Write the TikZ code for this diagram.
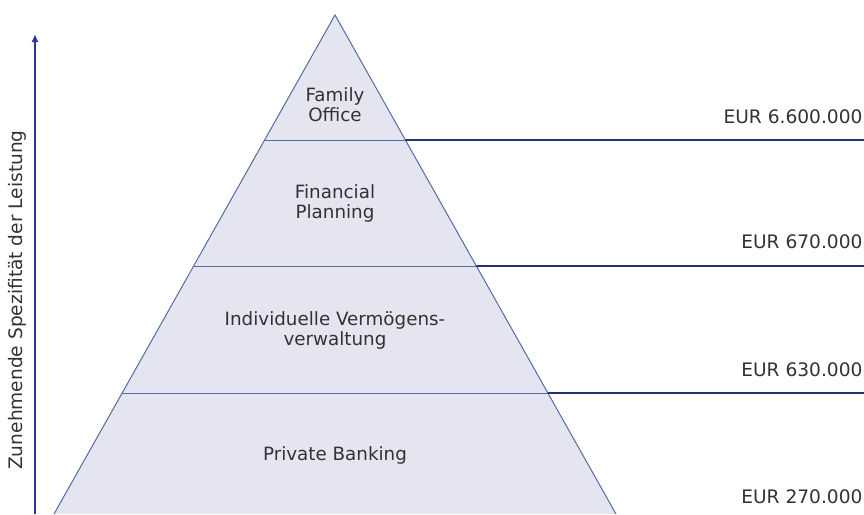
\documentclass[tikz,border=0pt]{standalone}
\usepackage{fontspec}
\setmainfont{DejaVu Sans}
\usetikzlibrary{calc, arrows.meta}

\definecolor{pyrfill}{RGB}{229,229,242}
\definecolor{pyrline}{RGB}{80,110,160}
\definecolor{levelline}{RGB}{35,50,110}
\definecolor{axisblue}{RGB}{50,50,160}
\definecolor{txtgrey}{RGB}{50,50,50}

\tikzset{
    pyrtext/.style={text=txtgrey, align=center, font=\fontsize{18.3}{20}\selectfont},
    eurtext/.style={text=txtgrey, anchor=base east, font=\fontsize{18.6}{20}\selectfont},
}

\begin{document}
\begin{tikzpicture}[x=1pt, y=-1pt]
        \useasboundingbox (0,0) rectangle (864,514);

        % define pyramid
        \coordinate (apex) at (335,15);
        \coordinate (base_left) at (54,514);
        \coordinate (base_right) at (616,514);

        % draw pyramid
        \fill[pyrfill] (apex) -- (base_left) -- (base_right) -- cycle;
        \draw[pyrline, line width=1pt] (base_left) -- (apex) -- (base_right);

        % level borders
        \coordinate (L1_left) at ($(apex)!0.2505!(base_left)$);
        \coordinate (L1_right) at ($(apex)!0.2505!(base_right)$);
        \coordinate (L2_left) at ($(apex)!0.503!(base_left)$);
        \coordinate (L2_right) at ($(apex)!0.503!(base_right)$);
        \coordinate (L3_left) at ($(apex)!0.7575!(base_left)$);
        \coordinate (L3_right) at ($(apex)!0.7575!(base_right)$);

        \draw[pyrline, line width=1pt] (L1_left) -- (L1_right);
        \draw[pyrline, line width=1pt] (L2_left) -- (L2_right);
        \draw[pyrline, line width=1pt] (L3_left) -- (L3_right);

        \coordinate (L1_end) at (864,140);
        \coordinate (L2_end) at (864,266);
        \coordinate (L3_end) at (864,393);
        \draw[levelline, line width=1.8pt] (L1_right) -- (L1_end);
        \draw[levelline, line width=1.8pt] (L2_right) -- (L2_end);
        \draw[levelline, line width=1.8pt] (L3_right) -- (L3_end);

        % level names
        \node[pyrtext] (family) at (335,105) {Family\\Office};
        \node[pyrtext] (financial) at (335,203) {Financial\\Planning};
        \node[pyrtext] (vermoegen) at (335,330) {Individuelle Verm\"ogens-\\verwaltung};
        \node[pyrtext] (private) at (335,455) {Private Banking};

        % amounts
        \node[eurtext] (eur1) at (866,123) {EUR 6.600.000};
        \node[eurtext] (eur2) at (866,248) {EUR 670.000};
        \node[eurtext] (eur3) at (866,376) {EUR 630.000};
        \node[eurtext] (eur4) at (866,503) {EUR 270.000};

        % axis
        \coordinate (axis_bottom) at (35,514);
        \coordinate (axis_top) at (35,34);
        \draw[axisblue, line width=2pt, -{Latex[length=8pt, width=7pt]}] (axis_bottom) -- (axis_top);
        \node[eurtext, anchor=center, rotate=90] (axis_label) at (17,300) {Zunehmende Spezifit\"at der Leistung};
    \end{tikzpicture}
\end{document}
